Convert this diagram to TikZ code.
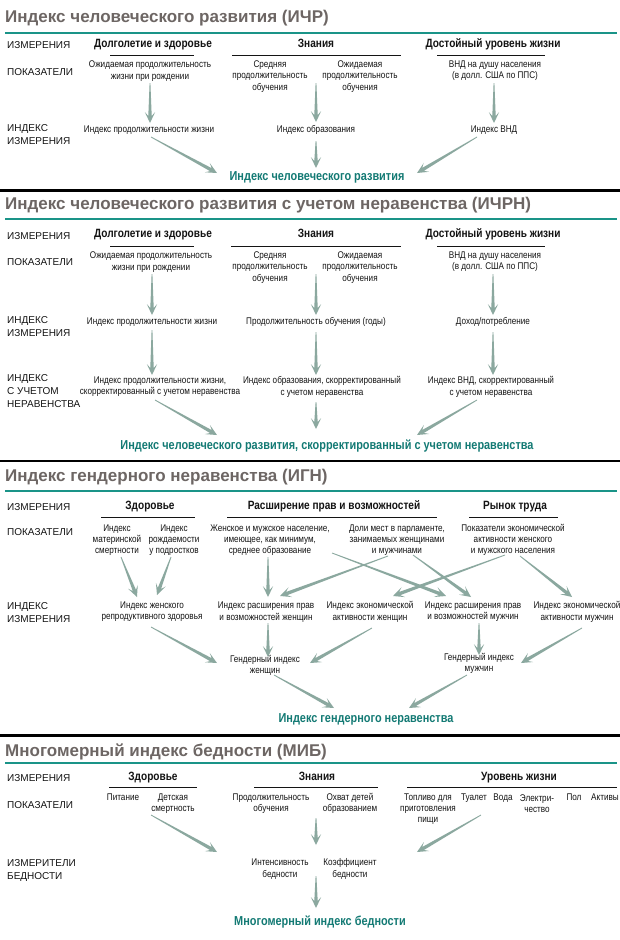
\documentclass[tikz,border=0pt]{standalone}
\usepackage{fontspec}
\setmainfont{Liberation Sans}
\newfontfamily\condf[FakeStretch=0.84]{Liberation Sans}
\usetikzlibrary{calc}
\definecolor{titlegray}{HTML}{6D6664}
\definecolor{tealrule}{HTML}{1A9488}
\definecolor{tealtext}{HTML}{137A74}
\definecolor{arrowc}{HTML}{8BA89F}
\definecolor{bodyc}{HTML}{141414}
\newcommand\tarrow[2]{%
  \path ($(#2)!7pt!(#1)$) coordinate (tn) ($(#2)!11pt!(#1)$) coordinate (tw);
  \fill[arrowc] ($(#1)!0.4pt!90:(#2)$) -- ($(tn)!1.7pt!-90:(#1)$) -- ($(tw)!5.2pt!-90:(#1)$) -- (#2) -- ($(tw)!5.2pt!90:(#1)$) -- ($(tn)!1.7pt!90:(#1)$) -- ($(#1)!0.4pt!-90:(#2)$) -- cycle;}
\tikzset{
  ttl/.style={anchor=west, inner sep=0, text=titlegray, font=\fontsize{17}{20}\selectfont\bfseries},
  rowl/.style={anchor=west, inner sep=0, align=left, text=bodyc, font=\fontsize{10}{13}\selectfont},
  dimh/.style={inner sep=0, text=bodyc, text height=0.72em, text depth=0.22em, font=\condf\fontsize{12}{14}\selectfont\bfseries},
  ind/.style={inner sep=0, align=center, text=bodyc, font=\condf\fontsize{9.7}{11.3}\selectfont},
  oneln/.style={text height=0.72em, text depth=0.22em},
  fin/.style={inner sep=0, text=tealtext, text height=0.72em, text depth=0.22em, font=\condf\fontsize{13}{15}\selectfont\bfseries},
  hrule/.style={line width=1pt, bodyc},
  trule/.style={line width=2.5pt, tealrule},
  brule/.style={line width=2.5pt, black}
}
\begin{document}
\begin{tikzpicture}[x=1pt,y=-1pt]
\fill[white] (0,0) rectangle (620,940);
\useasboundingbox (0,0) rectangle (620,940);

% ================= Section 1 =================
\node[ttl] (t1) at (5,18) {Индекс человеческого развития (ИЧР)};
\draw[trule] (5,33) -- (617,33);
\node[rowl] (r1a) at (7,45) {ИЗМЕРЕНИЯ};
\node[rowl] (r1b) at (7,72) {ПОКАЗАТЕЛИ};
\node[rowl] (r1c) at (7,135) {ИНДЕКС\\ИЗМЕРЕНИЯ};
\node[dimh] (d1a) at (153,45) {Долголетие и здоровье};
\node[dimh] (d1b) at (316,45) {Знания};
\node[dimh] (d1c) at (493,45) {Достойный уровень жизни};
\draw[hrule] (110,55) -- (194,55);
\draw[hrule] (232,55) -- (401,55);
\draw[hrule] (437,55) -- (545,55);
\node[ind] (p1a) at (150,71) {Ожидаемая продолжительность\\жизни при рождении};
\node[ind] (p1b) at (270,76.5) {Средняя\\продолжительность\\обучения};
\node[ind] (p1c) at (360,76.5) {Ожидаемая\\продолжительность\\обучения};
\node[ind] (p1d) at (495,71) {ВНД на душу населения\\(в долл. США по ППС)};
\node[ind,oneln] (i1a) at (149,130) {Индекс продолжительности жизни};
\node[ind,oneln] (i1b) at (316,130) {Индекс образования};
\node[ind,oneln] (i1c) at (494,130) {Индекс ВНД};
\node[fin] (f1) at (317,178) {Индекс человеческого развития};
\coordinate (a1s1) at (150,83);  \coordinate (a1e1) at (150,123);
\coordinate (a1s2) at (316,83);  \coordinate (a1e2) at (316,122);
\coordinate (a1s3) at (494,83);  \coordinate (a1e3) at (494,123);
\coordinate (b1s1) at (151,137); \coordinate (b1e1) at (217,173);
\coordinate (b1s2) at (316,141); \coordinate (b1e2) at (316,168);
\coordinate (b1s3) at (477,137); \coordinate (b1e3) at (417,173);
\tarrow{a1s1}{a1e1}\tarrow{a1s2}{a1e2}\tarrow{a1s3}{a1e3}
\tarrow{b1s1}{b1e1}\tarrow{b1s2}{b1e2}\tarrow{b1s3}{b1e3}
\draw[brule] (0,190.5) -- (620,190.5);

% ================= Section 2 =================
\node[ttl] (t2) at (5,205) {Индекс человеческого развития с учетом неравенства (ИЧРН)};
\draw[trule] (5,219) -- (617,219);
\node[rowl] (r2a) at (7,236) {ИЗМЕРЕНИЯ};
\node[rowl] (r2b) at (7,262) {ПОКАЗАТЕЛИ};
\node[rowl] (r2c) at (7,326.5) {ИНДЕКС\\ИЗМЕРЕНИЯ};
\node[rowl] (r2d) at (7,391) {ИНДЕКС\\С УЧЕТОМ\\НЕРАВЕНСТВА};
\node[dimh] (d2a) at (153,235) {Долголетие и здоровье};
\node[dimh] (d2b) at (316,235) {Знания};
\node[dimh] (d2c) at (493,235) {Достойный уровень жизни};
\draw[hrule] (110,246) -- (194,246);
\draw[hrule] (231,246) -- (401,246);
\draw[hrule] (437,246) -- (545,246);
\node[ind] (p2a) at (151,262) {Ожидаемая продолжительность\\жизни при рождении};
\node[ind] (p2b) at (270,267.5) {Средняя\\продолжительность\\обучения};
\node[ind] (p2c) at (360,267.5) {Ожидаемая\\продолжительность\\обучения};
\node[ind] (p2d) at (495,262) {ВНД на душу населения\\(в долл. США по ППС)};
\node[ind,oneln] (i2a) at (152,322) {Индекс продолжительности жизни};
\node[ind,oneln] (i2b) at (316,322) {Продолжительность обучения (годы)};
\node[ind,oneln] (i2c) at (493,322) {Доход/потребление};
\node[ind] (j2a) at (160,387) {Индекс продолжительности жизни,\\скорректированный с учетом неравенства};
\node[ind] (j2b) at (322,387) {Индекс образования, скорректированный\\с учетом неравенства};
\node[ind] (j2c) at (491,387) {Индекс ВНД, скорректированный\\с учетом неравенства};
\node[fin] (f2) at (327,447) {Индекс человеческого развития, скорректированный с учетом неравенства};
\coordinate (a2s1) at (152,274); \coordinate (a2e1) at (152,315);
\coordinate (a2s2) at (316,274); \coordinate (a2e2) at (316,315);
\coordinate (a2s3) at (493,274); \coordinate (a2e3) at (493,315);
\coordinate (c2s1) at (152,330); \coordinate (c2e1) at (152,375);
\coordinate (c2s2) at (316,332); \coordinate (c2e2) at (316,375);
\coordinate (c2s3) at (493,332); \coordinate (c2e3) at (493,375);
\coordinate (b2s1) at (155,400); \coordinate (b2e1) at (217,435);
\coordinate (b2s2) at (316,402); \coordinate (b2e2) at (316,429);
\coordinate (b2s3) at (477,400); \coordinate (b2e3) at (417,435);
\tarrow{a2s1}{a2e1}\tarrow{a2s2}{a2e2}\tarrow{a2s3}{a2e3}
\tarrow{c2s1}{c2e1}\tarrow{c2s2}{c2e2}\tarrow{c2s3}{c2e3}
\tarrow{b2s1}{b2e1}\tarrow{b2s2}{b2e2}\tarrow{b2s3}{b2e3}
\draw[brule] (0,461) -- (620,461);

% ================= Section 3 =================
\node[ttl] (t3) at (5,477) {Индекс гендерного неравенства (ИГН)};
\draw[trule] (5,491) -- (617,491);
\node[rowl] (r3a) at (7,507) {ИЗМЕРЕНИЯ};
\node[rowl] (r3b) at (7,532) {ПОКАЗАТЕЛИ};
\node[rowl] (r3c) at (7,613) {ИНДЕКС\\ИЗМЕРЕНИЯ};
\node[dimh] (d3a) at (150,507) {Здоровье};
\node[dimh] (d3b) at (334,507) {Расширение прав и возможностей};
\node[dimh] (d3c) at (515,507) {Рынок труда};
\draw[hrule] (101,517) -- (195,517);
\draw[hrule] (227,517) -- (437,517);
\draw[hrule] (469,517) -- (558,517);
\node[ind] (p3a) at (117,540) {Индекс\\материнской\\смертности};
\node[ind] (p3b) at (174,540) {Индекс\\рождаемости\\у подростков};
\node[ind] (p3c) at (270,540) {Женское и мужское население,\\имеющее, как минимум,\\среднее образование};
\node[ind] (p3d) at (397,540) {Доли мест в парламенте,\\занимаемых женщинами\\и мужчинами};
\node[ind] (p3e) at (513,540) {Показатели экономической\\активности женского\\и мужского населения};
\node[ind] (i3a) at (152,612) {Индекс женского\\репродуктивного здоровья};
\node[ind] (i3b) at (266,612) {Индекс расширения прав\\и возможностей женщин};
\node[ind] (i3c) at (370,612) {Индекс экономической\\активности женщин};
\node[ind] (i3d) at (473,612) {Индекс расширения прав\\и возможностей мужчин};
\node[ind] (i3e) at (577,612) {Индекс экономической\\активности мужчин};
\node[ind] (g3a) at (265,665.5) {Гендерный индекс\\женщин};
\node[ind] (g3b) at (479,663.5) {Гендерный индекс\\мужчин};
\node[fin] (f3) at (366,720) {Индекс гендерного неравенства};
\coordinate (a3s1) at (121,557); \coordinate (a3e1) at (137,597);
\coordinate (a3s2) at (171,557); \coordinate (a3e2) at (157,595);
\coordinate (a3s3) at (268,557); \coordinate (a3e3) at (268,597);
\coordinate (a3s4) at (332,553); \coordinate (a3e4) at (446,596);
\coordinate (a3s5) at (388,556); \coordinate (a3e5) at (280,596);
\coordinate (a3s6) at (413,555); \coordinate (a3e6) at (471,597);
\coordinate (a3s7) at (505,555); \coordinate (a3e7) at (393,596);
\coordinate (a3s8) at (520,556); \coordinate (a3e8) at (572,597);
\coordinate (b3s1) at (151,627); \coordinate (b3e1) at (217,663);
\coordinate (b3s2) at (268,623); \coordinate (b3e2) at (268,657);
\coordinate (b3s3) at (372,628); \coordinate (b3e3) at (310,663);
\coordinate (b3s4) at (479,623); \coordinate (b3e4) at (479,655);
\coordinate (b3s5) at (582,628); \coordinate (b3e5) at (521,663);
\coordinate (c3s1) at (274,675); \coordinate (c3e1) at (334,708);
\coordinate (c3s2) at (467,675); \coordinate (c3e2) at (409,708);
\tarrow{a3s1}{a3e1}\tarrow{a3s2}{a3e2}\tarrow{a3s3}{a3e3}\tarrow{a3s4}{a3e4}
\tarrow{a3s5}{a3e5}\tarrow{a3s6}{a3e6}\tarrow{a3s7}{a3e7}\tarrow{a3s8}{a3e8}
\tarrow{b3s1}{b3e1}\tarrow{b3s2}{b3e2}\tarrow{b3s3}{b3e3}\tarrow{b3s4}{b3e4}\tarrow{b3s5}{b3e5}
\tarrow{c3s1}{c3e1}\tarrow{c3s2}{c3e2}
\draw[brule] (0,735.5) -- (620,735.5);

% ================= Section 4 =================
\node[ttl] (t4) at (5,752) {Многомерный индекс бедности (МИБ)};
\draw[trule] (5,763) -- (617,763);
\node[rowl] (r4a) at (7,778) {ИЗМЕРЕНИЯ};
\node[rowl] (r4b) at (7,805) {ПОКАЗАТЕЛИ};
\node[rowl] (r4c) at (7,870) {ИЗМЕРИТЕЛИ\\БЕДНОСТИ};
\node[dimh] (d4a) at (153,778) {Здоровье};
\node[dimh] (d4b) at (317,778) {Знания};
\node[dimh] (d4c) at (519,778) {Уровень жизни};
\draw[hrule] (109,787) -- (197,787);
\draw[hrule] (254,787) -- (378,787);
\draw[hrule] (407,787) -- (617,787);
\node[ind,oneln] (p4a) at (123,798) {Питание};
\node[ind] (p4b) at (173,803.5) {Детская\\смертность};
\node[ind] (p4c) at (271,803.5) {Продолжительность\\обучения};
\node[ind] (p4d) at (350,803.5) {Охват детей\\образованием};
\node[ind] (p4e) at (428,809) {Топливо для\\приготовления\\пищи};
\node[ind,oneln] (p4f) at (474,798) {Туалет};
\node[ind,oneln] (p4g) at (503,798) {Вода};
\node[ind] (p4h) at (537,803.5) {Электри-\\чество};
\node[ind,oneln] (p4i) at (574,798) {Пол};
\node[ind,oneln] (p4j) at (605,798) {Активы};
\node[ind] (m4a) at (280,869) {Интенсивность\\бедности};
\node[ind] (m4b) at (350,869) {Коэффициент\\бедности};
\node[fin] (f4) at (320,923) {Многомерный индекс бедности};
\coordinate (a4s1) at (151,815); \coordinate (a4e1) at (217,852);
\coordinate (a4s2) at (316,818); \coordinate (a4e2) at (316,845);
\coordinate (a4s3) at (481,815); \coordinate (a4e3) at (417,852);
\coordinate (b4s1) at (316,876); \coordinate (b4e1) at (316,908);
\tarrow{a4s1}{a4e1}\tarrow{a4s2}{a4e2}\tarrow{a4s3}{a4e3}\tarrow{b4s1}{b4e1}
\end{tikzpicture}
\end{document}
